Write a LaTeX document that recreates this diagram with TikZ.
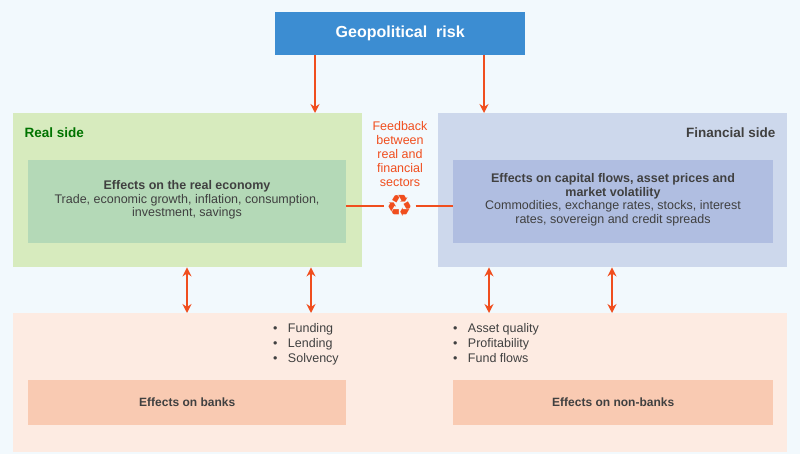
\documentclass[tikz,border=0pt]{standalone}
\usepackage{fontspec}
\setmainfont{Liberation Sans}
\newfontfamily\symfont{DejaVu Sans}
\usetikzlibrary{positioning, arrows.meta}
\definecolor{riskblue}{HTML}{3C8DD2}
\definecolor{arrowred}{HTML}{F04E1E}
\definecolor{realbg}{HTML}{D7EBBE}
\definecolor{realin}{HTML}{B4D9B7}
\definecolor{finbg}{HTML}{CDD8EC}
\definecolor{finin}{HTML}{B0BEE1}
\definecolor{bankbg}{HTML}{FDEBE2}
\definecolor{bankin}{HTML}{F9CAB2}
\definecolor{pagebg}{HTML}{F2F9FD}
\definecolor{textgrey}{HTML}{404040}
\begin{document}
\begin{tikzpicture}[x=1pt, y=-1pt,
        panel/.style={draw=none, anchor=north west, inner sep=0pt},
        effect/.style={align=center, text=textgrey, font=\fontsize{12.5}{13.5}\selectfont},
        bullets/.style={align=left, anchor=north west, text=textgrey, font=\fontsize{12.5}{15}\selectfont, inner sep=0pt},
        link/.style={{Stealth[length=9pt,width=9pt]}-{Stealth[length=9pt,width=9pt]}, arrowred, line width=2.2pt},
        down/.style={-{Stealth[length=9pt,width=9pt]}, arrowred, line width=2.2pt}
      ]
        \fill[pagebg] (0,0) rectangle (800,454);
        \useasboundingbox (0,0) rectangle (800,454);

        % Top
        \node[panel, fill=riskblue, minimum width=250pt, minimum height=43pt, text=white, font=\bfseries\fontsize{16}{18}\selectfont] (risk) at (275,12) {Geopolitical\ \ risk};

        % Sides
        \node[panel, fill=realbg, minimum width=349pt, minimum height=154pt] (real) at (13,113) {};
        \node[panel, fill=realin, minimum width=318pt, minimum height=83pt] (realin) at (28,160) {};
        \node[panel, fill=finbg, minimum width=349pt, minimum height=154pt] (fin) at (438,113) {};
        \node[panel, fill=finin, minimum width=320pt, minimum height=83pt] (finin) at (453,160) {};
        \node[anchor=west, text=green!45!black, font=\bfseries\fontsize{13.5}{15}\selectfont] (realtitle) at (21,133) {Real side};
        \node[anchor=east, text=textgrey, font=\bfseries\fontsize{13.5}{15}\selectfont] (fintitle) at (779,133) {Financial side};
        \node[effect] (realtext) at (187,200) {\textbf{Effects on the real economy}\\Trade, economic growth, inflation, consumption,\\investment, savings};
        \node[effect] (fintext) at (613,200) {\textbf{Effects on capital flows, asset prices and}\\\textbf{market volatility}\\Commodities, exchange rates, stocks, interest\\rates, sovereign and credit spreads};

        % Feedback
        \node[align=center, text=arrowred, font=\fontsize{12.5}{14}\selectfont] (feedback) at (400,154) {Feedback\\between\\real and\\financial\\sectors};
        \node[text=arrowred, font=\symfont\fontsize{30}{30}\selectfont, inner sep=2pt] (cycle) at (400,206) {♻};
        \draw[arrowred, line width=2.2pt] (realin.east |- cycle) -- (cycle.west);
        \draw[arrowred, line width=2.2pt] (cycle.east) -- (finin.west |- cycle);

        % Bottom
        \node[panel, fill=bankbg, minimum width=774pt, minimum height=139pt] (bottom) at (13,313) {};
        \node[panel, fill=bankin, minimum width=318pt, minimum height=45pt, font=\bfseries\fontsize{12}{14}\selectfont, text=textgrey] (banks) at (28,380) {Effects on banks};
        \node[panel, fill=bankin, minimum width=320pt, minimum height=45pt, font=\bfseries\fontsize{12}{14}\selectfont, text=textgrey] (nonbanks) at (453,380) {Effects on non-banks};
        \node[bullets] (bankbul) at (273,323) {\textbullet\ \ \ Funding\\\textbullet\ \ \ Lending\\\textbullet\ \ \ Solvency};
        \node[bullets] (nonbul) at (453,323) {\textbullet\ \ \ Asset quality\\\textbullet\ \ \ Profitability\\\textbullet\ \ \ Fund flows};

        % Arrows
        \draw[down] (risk.south -| 315,0) -- (real.north -| 315,0);
        \draw[down] (risk.south -| 484,0) -- (fin.north -| 484,0);
        \foreach \xx/\src in {187/real, 311/real, 489/fin, 612/fin}
          \draw[link] (\src.south -| \xx,0) -- (bottom.north -| \xx,0);
      \end{tikzpicture}
\end{document}
